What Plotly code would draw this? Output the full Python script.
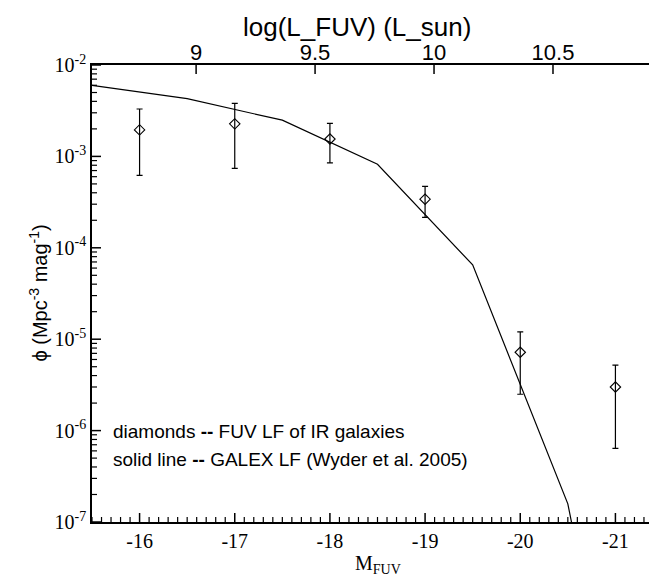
import plotly.graph_objects as go
import numpy as np

# ---- data ----
# Diamonds: FUV LF of IR galaxies
M_points = [-16, -17, -18, -19, -20, -21]
phi_points = [1.95e-3, 2.27e-3, 1.55e-3, 3.4e-4, 7.2e-6, 3.0e-6]
phi_upper = [3.3e-3, 3.8e-3, 2.3e-3, 4.7e-4, 1.2e-5, 5.2e-6]
phi_lower = [6.2e-4, 7.4e-4, 8.5e-4, 2.15e-4, 2.5e-6, 6.4e-7]

# Solid line: GALEX LF (Wyder et al. 2005)
M_line = [-15.5, -16.5, -17.5, -18.5, -19.5, -20.5, -21.5]
phi_line = [6.0e-3, 4.28e-3, 2.49e-3, 8.2e-4, 6.5e-5, 1.58e-7, 1.0e-12]

# axes
x_ticks = [-16, -17, -18, -19, -20, -21]
x_range = [-15.5, -21.5]
y_log_range = [-7, -2]
y_tick_exp = [-7, -6, -5, -4, -3, -2]
top_ticks = [9, 9.5, 10, 10.5]
top_ticktext = ["9", "9.5", "10", "10.5"]
M_at_logL9 = -16.594  # magnitude where log(L_FUV) = 9


def logL(M):
    return 9 - 0.4 * (np.asarray(M, dtype=float) - M_at_logL9)


serif = "Liberation Serif, Times New Roman, serif"
sans = "Liberation Sans, Arial, Helvetica, sans-serif"

W, H = 657, 577
ML, MR, MT, MB = 84, 2, 57, 63
PLOT_W = W - ML - MR
PLOT_H = H - MT - MB
MAJOR_LEN, MINOR_LEN = 9, 5

err_plus = [u - v for u, v in zip(phi_upper, phi_points)]
err_minus = [v - l for v, l in zip(phi_points, phi_lower)]

# minor tick positions
x_minor = [round(v, 2) for v in np.arange(-15.5, -21.51, -0.1) if abs(v - round(v)) > 1e-6]
y_minor = [k * 10.0 ** e for e in range(y_log_range[0], y_log_range[1]) for k in range(2, 10)]


def yfrac(v):
    return (np.log10(v) - y_log_range[0]) / (y_log_range[1] - y_log_range[0])


# tick marks pointing into the plot, built from the tick lists
shapes = []


def tick(xref, x0, x1, y0, y1, w):
    shapes.append(dict(type="line", xref=xref, yref="paper", x0=x0, x1=x1, y0=y0, y1=y1,
                       line=dict(color="black", width=w), layer="above"))


for xv in x_ticks:
    tick("x", xv, xv, 0, MAJOR_LEN / PLOT_H, 1.5)
for xv in x_minor:
    tick("x", xv, xv, 0, MINOR_LEN / PLOT_H, 1.2)
for tv in top_ticks:
    tick("x2", tv, tv, 1, 1 - MAJOR_LEN / PLOT_H, 1.5)
for e in y_tick_exp:
    yy = yfrac(10.0 ** e)
    tick("paper", 0, MAJOR_LEN / PLOT_W, yy, yy, 1.5)
    tick("paper", 1, 1 - MAJOR_LEN / PLOT_W, yy, yy, 1.5)
for v in y_minor:
    yy = yfrac(v)
    tick("paper", 0, MINOR_LEN / PLOT_W, yy, yy, 1.2)
    tick("paper", 1, 1 - MINOR_LEN / PLOT_W, yy, yy, 1.2)

fig = go.Figure()

fig.add_trace(go.Scatter(
    x=M_line, y=phi_line, mode="lines",
    line=dict(color="black", width=1.2),
    showlegend=False, hoverinfo="skip",
))

fig.add_trace(go.Scatter(
    x=M_points, y=phi_points, mode="markers",
    marker=dict(symbol="diamond-open", size=8, color="black",
                line=dict(color="black", width=1.1)),
    error_y=dict(type="data", symmetric=False, array=err_plus,
                 arrayminus=err_minus, color="black", thickness=1.2, width=3),
    showlegend=False,
))

# invisible trace tying the top axis
fig.add_trace(go.Scatter(x=logL(M_points).tolist(), y=phi_points, mode="none",
                         xaxis="x2", yaxis="y", showlegend=False, hoverinfo="skip"))

fig.update_layout(
    width=W, height=H,
    margin=dict(l=ML, r=MR, t=MT, b=MB, autoexpand=False),
    paper_bgcolor="white", plot_bgcolor="white",
    showlegend=False,
    shapes=shapes,
    xaxis=dict(
        range=x_range, tickmode="array", tickvals=x_ticks, ticktext=[str(t) for t in x_ticks],
        ticks="", showline=True, linecolor="black", linewidth=1.6, mirror=True,
        showgrid=False, zeroline=False,
        tickfont=dict(family=serif, size=20, color="black"),
    ),
    xaxis2=dict(
        overlaying="x", side="top", anchor="y",
        range=logL(x_range).tolist(),
        tickmode="array", tickvals=top_ticks, ticktext=top_ticktext,
        ticks="", showline=False, showgrid=False, zeroline=False,
        tickfont=dict(family=sans, size=22, color="black"),
    ),
    yaxis=dict(
        type="log", range=y_log_range,
        tickmode="array",
        tickvals=[10.0 ** e for e in y_tick_exp],
        ticktext=["10<sup>%d</sup>" % e for e in y_tick_exp],
        ticks="", showline=True, linecolor="black", linewidth=1.6, mirror=True,
        showgrid=False, zeroline=False,
        tickfont=dict(family=serif, size=20, color="black"),
    ),
    annotations=[
        dict(text="log(L_FUV) (L_sun)", xref="paper", yref="paper",
             x=0.4646, y=1.0, yshift=38, xanchor="center", yanchor="middle",
             showarrow=False, font=dict(family=sans, size=26, color="black")),
        dict(text="ϕ (Mpc<sup>-3</sup> mag<sup>-1</sup>)", xref="paper", yref="paper",
             x=0, xshift=-54, y=0.5, textangle=-90, xanchor="center", yanchor="middle",
             showarrow=False, font=dict(family=sans, size=20, color="black")),
        dict(text="M<sub>FUV</sub>", xref="paper", yref="paper",
             x=0.5, y=0, yshift=-42, xanchor="center", yanchor="middle",
             showarrow=False, font=dict(family=serif, size=20, color="black")),
        dict(text="diamonds <b>--</b> FUV LF of IR galaxies", xref="paper", yref="paper",
             x=0, xshift=19, y=0, yshift=91, xanchor="left", yanchor="middle",
             showarrow=False, font=dict(family=sans, size=19, color="black")),
        dict(text="solid line <b>--</b> GALEX LF (Wyder et al. 2005)", xref="paper", yref="paper",
             x=0, xshift=19, y=0, yshift=63, xanchor="left", yanchor="middle",
             showarrow=False, font=dict(family=sans, size=19, color="black")),
    ],
)

fig.write_html("out.html")
